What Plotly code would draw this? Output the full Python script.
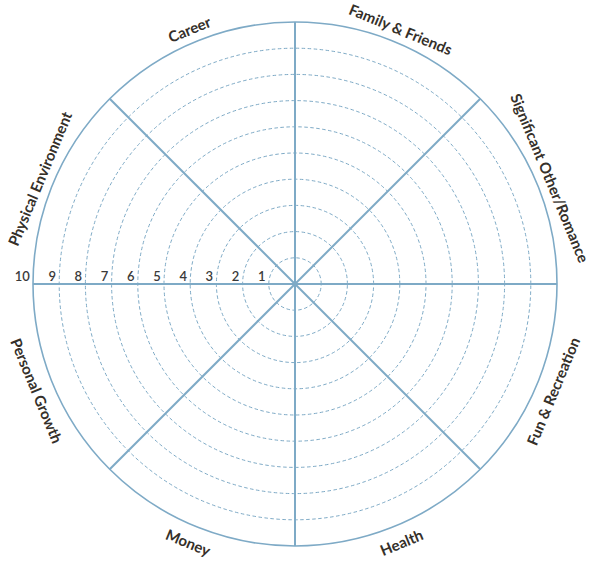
import math
import plotly.graph_objects as go

# ---- data ----
categories = [
    "Career",
    "Family & Friends",
    "Significant Other/Romance",
    "Fun & Recreation",
    "Health",
    "Money",
    "Personal Growth",
    "Physical Environment",
]
radial_ticks = [1, 2, 3, 4, 5, 6, 7, 8, 9, 10]
tick_labels = [str(v) for v in radial_ticks]

LINE = "#7eaac6"
TEXT = "#35302a"

n = len(categories)
sector = 360 / n
boundaries = [i * sector for i in range(n)]

fig = go.Figure()

# radial scale labels along the left spoke
fig.add_trace(go.Scatterpolar(
    r=radial_ticks,
    theta=[180] * len(radial_ticks),
    mode="text",
    text=[t + "\u00a0" for t in tick_labels],
    textposition="top left",
    textfont=dict(family="Lato", size=13, color="#3a3a3a", weight=600),
    cliponaxis=False,
    hoverinfo="skip",
    showlegend=False,
))
# center hub
fig.add_trace(go.Scatterpolar(
    r=[0], theta=[0], mode="markers",
    marker=dict(size=5, color=LINE),
    hoverinfo="skip", showlegend=False,
))

fig.update_layout(
    width=602, height=581,
    margin=dict(l=33, r=45, t=22, b=35),
    paper_bgcolor="white",
    showlegend=False,
    polar=dict(
        bgcolor="white",
        domain=dict(x=[0, 1], y=[0, 1]),
        radialaxis=dict(
            range=[0, 10], tickvals=radial_ticks, showticklabels=False,
            ticks="", angle=180, showline=False,
            gridcolor=LINE, gridwidth=1.3, griddash="3.5px,2.5px",
        ),
        angularaxis=dict(
            type="linear", thetaunit="degrees", direction="counterclockwise",
            rotation=0, tickvals=boundaries, showticklabels=False, ticks="",
            gridcolor=LINE, gridwidth=1.5,
            showline=True, linecolor=LINE, linewidth=1.6,
        ),
    ),
)

# category labels, centred on each sector, tangential to the rim
label_r = 276 / 524
for i, cat in enumerate(categories):
    th = 90 + sector / 2 - i * sector  # sector centre (deg, ccw from east)
    th_n = ((th + 180) % 360) - 180
    if th_n >= 0:
        ang = 90 - th_n
        rr = label_r
    else:
        ang = -(90 + th_n)
        rr = label_r + 3 / 524
    rad = math.radians(th_n)
    fig.add_annotation(
        x=0.5 + rr * math.cos(rad), y=0.5 + rr * math.sin(rad),
        xref="paper", yref="paper", xanchor="center", yanchor="middle",
        text=cat, showarrow=False, textangle=ang,
        font=dict(family="Lato", size=15, color=TEXT, weight=700),
    )

fig.write_html(
    "out.html",
    config={"displayModeBar": False},
    post_script="document.body.style.margin='0';document.body.style.overflow='hidden';",
)
